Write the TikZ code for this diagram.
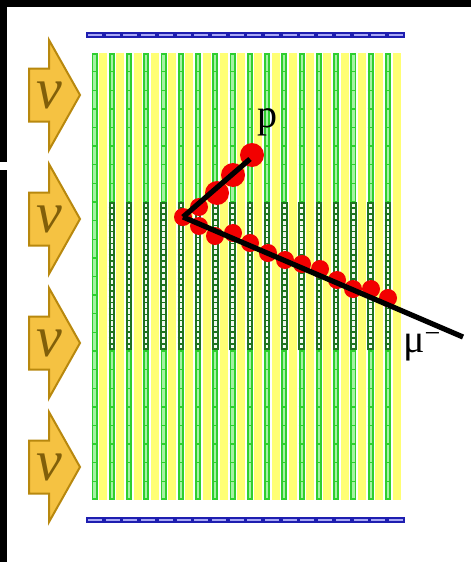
\documentclass[tikz,border=0pt]{standalone}
\usepackage{fontspec}
\setmainfont{Liberation Serif}
\begin{document}
\definecolor{stripyellow}{HTML}{FFFF74}
\definecolor{greenedge}{HTML}{2FCF2F}
\definecolor{greenfill}{HTML}{A4F2A4}
\definecolor{darkgreen}{HTML}{1F721F}
\definecolor{darkfill}{HTML}{F2FAF2}
\definecolor{barblue}{HTML}{1E1EB0}
\definecolor{barlight}{HTML}{A8A8F5}
\definecolor{arrowfill}{HTML}{F5C242}
\definecolor{arrowedge}{HTML}{B8880E}
\definecolor{hitred}{HTML}{F20000}
\begin{tikzpicture}[x=1pt,y=-1pt,
  hit/.style={fill=hitred},
  track/.style={draw=black,line width=5.2pt},
  nuarrow/.style={fill=arrowfill,draw=arrowedge,line width=2pt,line join=miter},
  nulabel/.style={inner sep=0pt,text=arrowedge!70!black,font=\fontsize{58}{58}\selectfont\itshape},
  partlabel/.style={inner sep=0pt,font=\fontsize{40}{40}\selectfont}]
\useasboundingbox (0,0) rectangle (471,562);
\fill[white] (0,0) rectangle (471,562);
% dark frame edges
\fill[black] (0,0) rectangle (471,7);
\fill[black] (0,0) rectangle (7,162);
\fill[black] (0,170) rectangle (7,562);

% detector planes: scintillator strips (green) and absorber (yellow)
\foreach \k in {0,...,17}{
  \pgfmathsetmacro\cx{94.5+17.26*\k}
  \fill[stripyellow] (\cx+4.6,53) rectangle (\cx+12.6,500);
  \fill[greenedge] (\cx-3,53) rectangle (\cx+3,500);
  \fill[greenfill] (\cx-1.1,54.8) rectangle (\cx+1.1,498.2);
  \foreach \j in {1,...,23}{
    \draw[greenedge,line width=1.3pt] (\cx-3,53+18.625*\j) -- (\cx+3,53+18.625*\j);
  }
}
% fine-grained inner tracker section
\foreach \k in {1,...,17}{
  \pgfmathsetmacro\cx{94.5+17.26*\k}
  \fill[darkgreen] (\cx-3.2,202) rectangle (\cx+3.2,350);
  \fill[darkfill] (\cx-1.2,204) rectangle (\cx+1.2,348);
  \foreach \j in {1,...,24}{
    \draw[darkgreen,line width=1.6pt] (\cx-3.2,202+5.92*\j) -- (\cx+3.2,202+5.92*\j);
  }
}

% veto bars
\fill[barblue] (86,32) rectangle (405,37.5);
\draw[barlight,line width=1.6pt,dash pattern=on 14pt off 3.7pt] (88,34.75) -- (403.5,34.75);
\fill[barblue] (86,517) rectangle (405,522.5);
\draw[barlight,line width=1.6pt,dash pattern=on 14pt off 3.7pt] (88,519.75) -- (403.5,519.75);

% incoming neutrino beam
\foreach \c [count=\i] in {95,219,343,467}{
  \draw[nuarrow] (29,\c-26.5) -- (49,\c-26.5) -- (49,\c-55) -- (80,\c)
    -- (49,\c+55) -- (49,\c+26.5) -- (29,\c+26.5) -- cycle;
  \node[nulabel] (nu\i) at (49,\c) {ν};
}

% hits
\foreach \x/\y/\r in {252/155/12, 233/175/12, 217/193/12, 199/207/9, 183/217/9,
  199/226/9, 215/236/9, 233/233/9, 250/243/9, 268/253/9, 285/260/9,
  302/264/9, 320/269/9, 337/280/9, 353/289/9, 371/289/9, 388/298/9}{
  \fill[hit] (\x,\y) circle (\r);
}

% reconstructed tracks
\coordinate (vtx) at (183,217);
\coordinate (pend) at (250,159);
\coordinate (mend) at (463,337);
\draw[track] (vtx) -- (pend);
\draw[track] (vtx) -- (mend);

\node[partlabel,anchor=base] (plab) at (267,127) {p};
\node[partlabel,anchor=base west] (mulab) at (403,352) {μ\textsuperscript{−}};
\end{tikzpicture}
\end{document}
